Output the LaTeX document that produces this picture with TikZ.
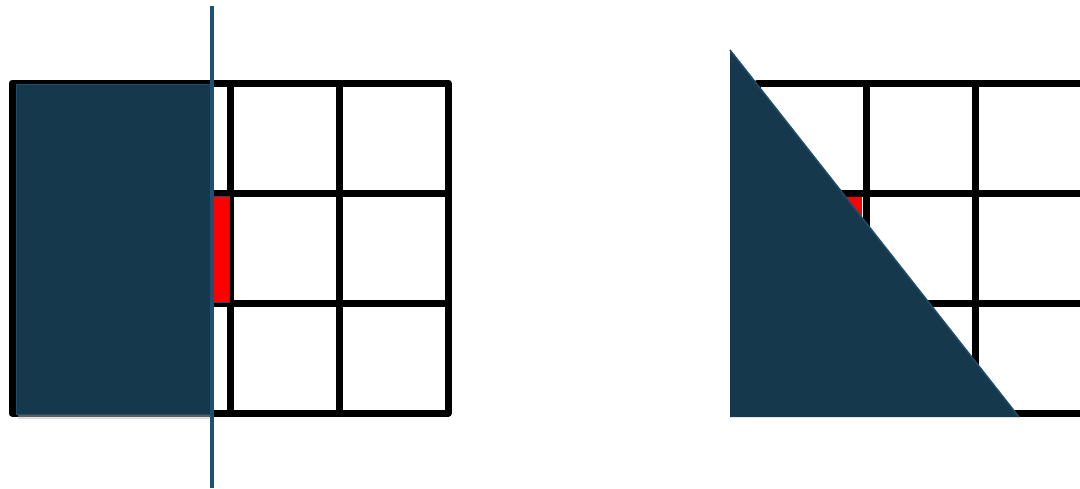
\documentclass[tikz,border=0pt]{standalone}
\definecolor{navy}{RGB}{21,56,76}
\definecolor{navyedge}{RGB}{32,78,106}
\definecolor{cutline}{RGB}{30,80,112}
\tikzset{
  gridline/.style={line width=7pt, black, line join=round},
  redcell/.style={fill=red, draw=navyedge, line width=0.8pt},
  shade/.style={fill=navy, draw=navyedge, line width=1.2pt},
  cut/.style={draw=cutline, line width=4.5pt}
}
\begin{document}
\begin{tikzpicture}[x=1pt,y=-1pt]
\useasboundingbox (0,0) rectangle (1080,488);
% ---------- left grid ----------
\coordinate (LTL) at (12,83);
\coordinate (LBR) at (448,413);
\draw[gridline] (LTL) rectangle (LBR);
\foreach \x in {121,230,339} \draw[gridline] (\x,83) -- (\x,413);
\foreach \y in {193,303} \draw[gridline] (12,\y) -- (448,\y);
\node[redcell, minimum width=112pt, minimum height=106pt, inner sep=0pt, anchor=north east] (lred) at (230,196) {};
\fill[black!25, opacity=0.5] (18,414) rectangle (212,419);
\node[shade, minimum width=194pt, minimum height=330pt, inner sep=0pt, anchor=north west] (lshade) at (16,84) {};
\coordinate (cutT) at (212,6);
\coordinate (cutB) at (212,488);
\draw[cut] (cutT) -- (cutB);
% ---------- right grid ----------
\draw[gridline] (757,83) rectangle (1084,413);
\foreach \x in {866,975} \draw[gridline] (\x,83) -- (\x,413);
\foreach \y in {193,303} \draw[gridline] (757,\y) -- (1084,\y);
\node[redcell, draw=none, minimum width=106pt, minimum height=104pt, inner sep=0pt, anchor=north east] (rred) at (862,197) {};
\coordinate (TA) at (730,50);
\coordinate (TB) at (730,417);
\coordinate (TC) at (1019,417);
\fill[navy] (TA) -- (TB) -- (TC) -- cycle;
\draw[navyedge, line width=1.5pt] (TA) -- (TC);
\end{tikzpicture}
\end{document}
